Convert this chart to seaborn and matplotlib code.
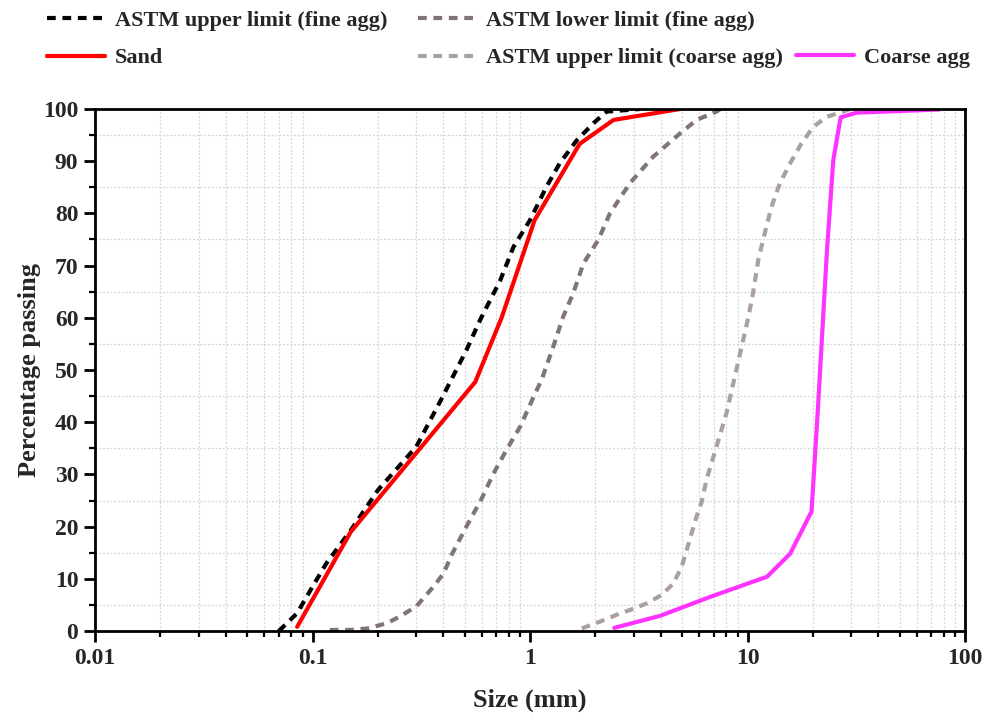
import numpy as np
import matplotlib
matplotlib.use("Agg")
import matplotlib.pyplot as plt
from matplotlib.ticker import LogLocator, MultipleLocator, FuncFormatter, NullFormatter
import seaborn as sns

# ASTM grading envelope and measured gradings (size in mm, percentage passing)
astm_fine_upper_size = [0.07, 0.085, 0.1, 0.116, 0.15, 0.2, 0.3, 0.39, 0.51, 0.59,
                        0.73, 0.84, 1.0, 1.19, 1.37, 1.64, 1.96, 2.25, 3.2]
astm_fine_upper_pass = [0, 3.4, 8.5, 13, 19.3, 27, 35.3, 44.3, 53.8, 59.6,
                        67.2, 73.6, 78.7, 85.1, 89.6, 94, 97.3, 99.5, 100]

astm_fine_lower_size = [0.12, 0.15, 0.18, 0.22, 0.25, 0.3, 0.36, 0.4, 0.44, 0.51,
                        0.6, 0.68, 0.78, 0.9, 1.04, 1.13, 1.28, 1.42, 1.58, 1.76,
                        2.06, 2.33, 2.88, 3.69, 4.89, 5.83, 7.2, 7.5]
astm_fine_lower_pass = [0.2, 0.2, 0.5, 1.5, 2.7, 4.7, 8.5, 11, 14.9, 20,
                        25.4, 30.2, 34.7, 39.1, 44.9, 48.1, 54.5, 60.2, 64.7, 70.4,
                        74.9, 80, 85.8, 90.9, 95.3, 97.9, 99.5, 100]

sand_size = [0.085, 0.15, 0.56, 0.74, 1.05, 1.69, 2.42, 4.9]
sand_pass = [0.8, 19.0, 47.7, 60.0, 78.7, 93.3, 97.9, 100]

astm_coarse_upper_size = [1.73, 2.1, 2.5, 3.0, 3.44, 4.03, 4.56, 4.98, 5.25, 5.53,
                          5.83, 6.16, 6.48, 7.2, 8.0, 8.33, 9.4, 10.1, 10.6, 11.2,
                          12.0, 12.9, 14.1, 15.7, 17.7, 20.1, 23.1, 27.6, 29.6]
astm_coarse_upper_pass = [0.5, 1.8, 3.1, 4.3, 5.3, 6.9, 9.1, 12.3, 15.5, 18.7,
                          21.9, 24.8, 29.0, 35.3, 41.7, 44.9, 54.5, 60.2, 64.7, 71.0,
                          76.2, 81.3, 85.8, 89.6, 93.4, 96.6, 98.5, 99.5, 100]

coarse_size = [2.44, 3.96, 6.6, 9.0, 12.3, 15.7, 19.7, 21.1, 23.2, 24.8, 26.8, 31.8, 76.0]
coarse_pass = [0.6, 2.9, 6.4, 8.4, 10.4, 14.8, 22.9, 43.0, 73.0, 90.2, 98.4, 99.3, 99.9]

sns.set_theme(style="ticks")
plt.rcParams["font.family"] = ["Liberation Serif", "DejaVu Serif"]
plt.rcParams["font.weight"] = "bold"
plt.rcParams["axes.labelweight"] = "bold"

fig = plt.figure(figsize=(9.92, 7.16), dpi=100)
ax = fig.add_axes([95 / 992, 1 - 631 / 716, 870 / 992, 522 / 716])

dash = (0, (2.1, 1.6))
lw = 3.0
series = [
    (astm_fine_upper_size, astm_fine_upper_pass, "ASTM upper limit (fine agg)", "#000000", dash),
    (astm_fine_lower_size, astm_fine_lower_pass, "ASTM lower limit (fine agg)", "#807477", dash),
    (sand_size, sand_pass, "Sand", "#ff0000", "-"),
    (astm_coarse_upper_size, astm_coarse_upper_pass, "ASTM upper limit (coarse agg)", "#aaa0a0", dash),
    (coarse_size, coarse_pass, "Coarse agg", "#ff33ff", "-"),
]
for xs, ys, lab, col, ls in series:
    sns.lineplot(x=xs, y=ys, ax=ax, color=col, linewidth=lw, linestyle=ls,
                 estimator=None, sort=False, label=lab, legend=False)

ax.set_xscale("log")
ax.set_xlim(0.01, 100)
ax.set_ylim(0, 100)
ax.xaxis.set_major_locator(LogLocator(base=10, numticks=10))
ax.xaxis.set_minor_locator(LogLocator(base=10, subs=np.arange(2, 10), numticks=20))
ax.xaxis.set_major_formatter(FuncFormatter(lambda v, p: f"{v:g}"))
ax.xaxis.set_minor_formatter(NullFormatter())
ax.yaxis.set_major_locator(MultipleLocator(10))
ax.yaxis.set_minor_locator(MultipleLocator(5))

ax.grid(False, which="major")
ax.grid(True, which="minor", color="#d4d4d4", linestyle=(0, (1.5, 1.5)), linewidth=0.9)

for side in ["left", "right", "top", "bottom"]:
    ax.spines[side].set_visible(True)
    ax.spines[side].set_linewidth(2.0)
    ax.spines[side].set_color("black")

ax.tick_params(which="major", direction="out", length=8, width=2, color="black",
               labelsize=17, pad=4)
ax.tick_params(which="minor", direction="out", length=4.5, width=1.6, color="black")
for t in ax.get_xticklabels() + ax.get_yticklabels():
    t.set_fontweight("bold")

ax.set_xlabel("Size (mm)", fontsize=19, fontweight="bold", labelpad=14)
ax.set_ylabel("Percentage passing", fontsize=19, fontweight="bold", labelpad=1.5)

handles, labels = ax.get_legend_handles_labels()
hmap = dict(zip(labels, handles))
leg_kw = dict(frameon=False, borderpad=0, borderaxespad=0,
              handlelength=2.6, handletextpad=0.45, labelspacing=0.78,
              prop={"weight": "bold", "size": 16})
cols = [
    (["ASTM upper limit (fine agg)", "Sand"], 47, 10),
    (["ASTM lower limit (fine agg)", "ASTM upper limit (coarse agg)"], 418, 10),
    (["Coarse agg"], 796, 47),
]
for labs, px, py in cols:
    fig.legend([hmap[l] for l in labs], labs, loc="upper left",
               bbox_to_anchor=(px / 992, 1 - py / 716), **leg_kw)

fig.savefig("out.png", dpi=100)
